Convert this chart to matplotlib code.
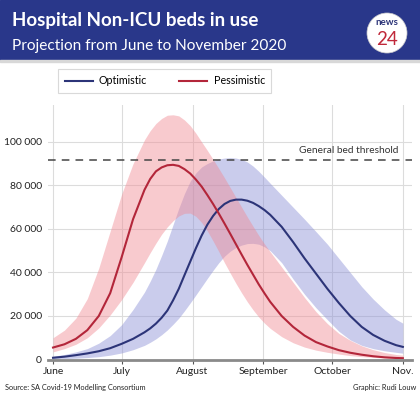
import matplotlib.pyplot as plt
from matplotlib.patches import Rectangle, Ellipse
from matplotlib.lines import Line2D

plt.rcParams['font.family'] = ['Lato', 'DejaVu Sans']

# days since 1 June 2020 (finer steps around the peaks)
days = [0, 5, 10, 15, 20, 25, 30, 35,
        40, 42.5, 45, 47.5, 50, 52.5, 55, 57.5, 60, 62.5, 65, 67.5, 70, 72.5,
        75, 77.5, 80, 82.5, 85, 87.5, 90, 92.5, 95,
        100, 105, 110, 115, 120, 125, 130, 135, 140, 145, 150, 153]

# optimistic scenario (thousand beds)
opt_mid = [0.8, 1.3, 2, 2.8, 3.8, 5.2, 7.2, 9.5,
           12.5, 14.3, 16.5, 19.2, 22.5, 27.2, 32.5, 38.8, 45, 51.2, 57, 62, 66, 69.2,
           71.5, 72.9, 73.5, 73.5, 73, 72, 70.5, 68.7, 66.5,
           61, 54, 46.5, 39.5, 32.5, 26, 20, 15, 11.3, 8.6, 6.6, 5.8]
opt_hi = [1.5, 2.3, 3.5, 5, 7.5, 11, 16, 23,
          31, 36, 41.5, 47.8, 54.5, 62, 69.5, 76.3, 82, 85.8, 88.5, 90.1, 91.3, 92.2,
          92.6, 92.8, 92.6, 92, 90.8, 88.9, 86.5, 83.8, 81,
          75.5, 70, 64.5, 58.8, 53, 46.5, 40, 33.5, 27.8, 22.8, 18.5, 16.7]
opt_lo = [0.2, 0.4, 0.6, 0.9, 1.3, 2, 3, 4.5,
          6.5, 7.9, 9.5, 11.4, 13.6, 16.2, 19, 22.4, 26, 29.7, 33.5, 37.3, 41, 44.5,
          47.5, 49.8, 51.5, 52.6, 53.3, 53.4, 53, 51.8, 50,
          44.5, 37, 30, 23.8, 18.3, 13, 9, 6.5, 5, 4, 3.3, 2.9]

# pessimistic scenario (thousand beds)
pes_mid = [5.5, 7, 9.5, 13.5, 20, 30.5, 47, 64.5,
           78, 83, 86.5, 88.3, 89.3, 89.5, 89, 87.5, 85.5, 82.7, 79.5, 75.6, 71.5, 67.1,
           62.5, 57.8, 53, 48.2, 43.5, 39, 34.5, 30.4, 26.5,
           20, 15, 11, 8, 6, 4.3, 3.1, 2.2, 1.5, 1, 0.7, 0.6]
pes_hi = [10, 13.5, 19, 28, 42, 59, 76, 90,
          101, 105.2, 108.5, 110.8, 112.3, 112.5, 112, 110.1, 107.5, 104, 100, 96.1, 92, 87.8,
          83.5, 79, 74.5, 70, 65.5, 61.2, 57, 53.1, 49.5,
          42.5, 35.5, 28.5, 22, 16.5, 12, 8.8, 6.3, 4.5, 3.2, 2.3, 2]
pes_lo = [3.5, 5, 7, 10, 14.5, 20.5, 27.5, 35.5,
          44.5, 49.1, 53.5, 57.6, 61, 63.8, 66, 67.2, 67.3, 65.8, 63, 59.1, 54.5, 49.6,
          44.5, 39.7, 35, 30.6, 26.5, 22.8, 19.5, 16.7, 14.3,
          10.5, 7.7, 5.7, 4.3, 3.3, 2.5, 1.8, 1.3, 1, 0.7, 0.5, 0.4]

threshold = 91.5
month_days = [0, 30, 61, 92, 122, 153]
month_labels = ['June', 'July', 'August', 'September', 'October', 'Nov.']
y_ticks = [0, 20, 40, 60, 80, 100]
y_labels = ['0', '20 000', '40 000', '60 000', '80 000', '100 000']

navy = '#2c3478'
red = '#b3263a'

fig = plt.figure(figsize=(4.2, 3.97), dpi=100)
ax = fig.add_axes([48 / 420, 1 - 359.5 / 397, 364 / 420, 254.5 / 397])

# bands first, lines on top
ax.fill_between(days, opt_lo, opt_hi, color='#8a8fd6', alpha=0.45, lw=0)
ax.fill_between(days, pes_lo, pes_hi, color='#f08a94', alpha=0.45, lw=0)
ax.plot(days, opt_mid, color=navy, lw=1.5, label='Optimistic')
ax.plot(days, pes_mid, color=red, lw=1.5, label='Pessimistic')

ax.axhline(threshold, color='#444444', lw=1.1, dashes=(5, 4))
ax.text(151, threshold + 2.5, 'General bed threshold', ha='right', va='bottom',
        fontsize=7.3, color='#333333')

ax.set_xlim(-2.2, 157)
ax.set_ylim(0, 117)
ax.set_xticks(month_days)
ax.set_xticklabels(month_labels, fontsize=7.5, color='#222222')
ax.set_yticks(y_ticks)
ax.set_yticklabels(y_labels, fontsize=7.5, color='#222222')
ax.tick_params(axis='y', length=0, pad=4.5)
ax.tick_params(axis='x', length=3, width=0.8, color='#555555', pad=2.5)
ax.grid(True, color='#dcdcdc', lw=0.8)
ax.set_axisbelow(True)
for s in ['top', 'right', 'left']:
    ax.spines[s].set_visible(False)
ax.spines['bottom'].set_color('#8a8a8a')
ax.spines['bottom'].set_linewidth(2)

# legend
handles = [Line2D([], [], color=navy, lw=1.5), Line2D([], [], color=red, lw=1.5)]
leg = fig.legend(handles, ['Optimistic', 'Pessimistic'], loc='center left',
                 bbox_to_anchor=(53 / 420, 1 - 81 / 397), ncol=2, fontsize=7.7,
                 frameon=True, fancybox=False, edgecolor='#d0d0d0',
                 handlelength=2.6, handletextpad=0.6, columnspacing=3.0,
                 borderpad=0.6)
leg.get_frame().set_linewidth(0.8)

# header banner
fig.patches.append(Rectangle((0, 1 - 60 / 397), 1, 60 / 397, transform=fig.transFigure,
                             color='#29378a', zorder=0))
fig.patches.append(Rectangle((0, 1 - 62 / 397), 1, 2 / 397, transform=fig.transFigure,
                             color='#d8d8d8', zorder=0))
fig.text(12 / 420, 1 - 26 / 397, 'Hospital Non-ICU beds in use', color='white',
         fontsize=13.5, fontweight='bold', va='baseline')
fig.text(12 / 420, 1 - 50 / 397, 'Projection from June to November 2020', color='white',
         fontsize=11.1, va='baseline')

# news24 logo
fig.patches.append(Ellipse((387 / 420, 1 - 33 / 397), 40 / 420, 40 / 397,
                           transform=fig.transFigure, facecolor='white',
                           edgecolor='#cccccc', lw=0.5))
fig.text(387 / 420, 1 - 25 / 397, 'news', color=navy, fontsize=7, fontweight='bold',
         ha='center', va='baseline')
fig.text(387 / 420, 1 - 45 / 397, '24', color='#c0283a', fontsize=13.5,
         ha='center', va='baseline')

# footer
fig.text(5 / 420, 1 - 390 / 397, 'Source: SA Covid-19 Modelling Consortium',
         fontsize=5.3, color='#222222', va='baseline')
fig.text(416 / 420, 1 - 390 / 397, 'Graphic: Rudi Louw', fontsize=5.3,
         color='#222222', ha='right', va='baseline')

fig.savefig('out.png', dpi=100)
